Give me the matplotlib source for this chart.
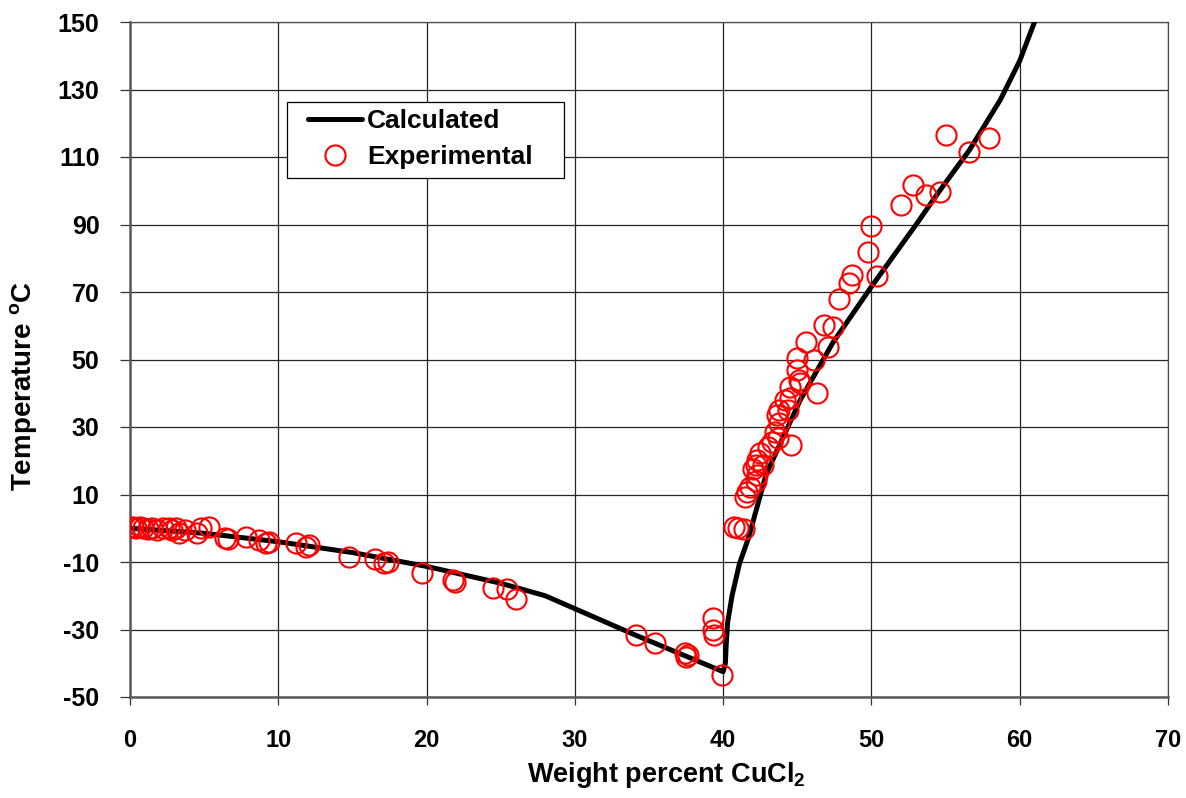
import matplotlib
matplotlib.use("Agg")
import matplotlib.pyplot as plt
from matplotlib.patches import Rectangle

plt.rcParams['font.family'] = ['Liberation Sans', 'DejaVu Sans']
plt.rcParams['axes.unicode_minus'] = False
plt.rcParams['mathtext.fontset'] = 'custom'
plt.rcParams['mathtext.rm'] = 'Liberation Sans'
plt.rcParams['mathtext.bf'] = 'Liberation Sans:bold'

# Calculated curve
calc_x = [0, 5, 10, 15, 20, 25, 28, 34, 40, 40.15, 40.2, 40.3, 40.6, 41.1, 41.7,
          42.9, 45.2, 47.4, 50.0, 53.0, 54.6, 56.6, 58.7, 60.0, 61.0]
calc_y = [0, -1.5, -4.0, -7.2, -11.3, -16.3, -20, -31.5, -42.5, -40, -35, -28, -20,
          -10.5, -3, 16, 38, 55, 71.6, 89.9, 100, 112, 127, 138.5, 150]

# Experimental data
exp_x = [0, 0.2, 0.4, 0.7, 0.9, 1.2, 1.5, 1.8, 2.2, 2.6, 2.8, 3.1, 3.3, 3.7, 4.5, 4.8, 5.3,
         6.4, 6.6, 7.8, 8.7, 9.2, 9.4, 11.2, 11.9, 12.1, 14.8, 16.5, 17.1, 17.4, 19.7,
         21.8, 21.9, 24.5, 25.4, 26.0, 34.1, 35.4, 37.4, 37.5, 37.6, 39.3, 39.3, 39.4, 39.9,
         40.7, 41.0, 41.4, 41.5, 41.6, 41.8, 42.2, 42.3, 42.0, 42.7, 42.2, 42.3, 42.5,
         43.0, 43.3, 43.7, 44.6, 43.5, 43.8, 43.6, 43.8, 44.4, 44.2, 44.5, 46.3, 44.5,
         45.2, 45.1, 45.0, 45.0, 46.1, 47.1, 45.6, 46.8, 47.4, 47.8, 48.5, 48.7, 50.4,
         49.8, 50.0, 52.0, 52.8, 53.7, 54.6, 55.0, 56.6, 57.9]
exp_y = [0.3, 0.5, 0, 0.3, 0, -0.2, 0, -0.5, 0, 0, -0.5, 0, -1.4, -0.5, -1.4, 0, 0.5,
         -3, -3.2, -2.5, -3.5, -4.5, -4, -4.4, -5.5, -5, -8.4, -9.2, -10.4, -10, -13.2,
         -15.3, -15.8, -17.8, -18.1, -21.0, -31.6, -34.1, -37, -38, -37.5, -26.7, -30, -31.6, -43.5,
         0.5, 0, -0.3, 9.4, 10.8, 12.3, 14, 15.8, 17.7, 18.7, 18.7, 20.2, 22.2,
         24.2, 25.7, 26.6, 24.7, 28.6, 31.1, 33.6, 35, 35, 38, 38.5, 40, 41.9,
         43, 43.9, 46.9, 50.3, 49.8, 53.8, 55.3, 60.2, 59.7, 68, 72.8, 75, 74.7,
         82, 89.6, 95.8, 101.7, 98.7, 99.7, 116.5, 111.6, 115.5]

x_ticks = [0, 10, 20, 30, 40, 50, 60, 70]
y_ticks = [-50, -30, -10, 10, 30, 50, 70, 90, 110, 130, 150]

W, H = 1186, 798
fig = plt.figure(figsize=(W / 100, H / 100), dpi=100)
ax = fig.add_axes([130 / W, 1 - 697 / H, 1038 / W, 675 / H])

ax.plot(calc_x, calc_y, color='black', lw=3.6, solid_capstyle='round', zorder=3,
        label='Calculated')
ax.plot(exp_x, exp_y, linestyle='none', marker='o', markersize=14.5,
        markerfacecolor='none', markeredgecolor='red', markeredgewidth=1.5,
        zorder=4, label='Experimental')

ax.set_xlim(0, 70)
ax.set_ylim(-50, 150)
ax.set_xticks(x_ticks)
ax.set_yticks(y_ticks)
ax.grid(True, color='0.15', lw=0.9)
ax.set_axisbelow(True)

for s in ['top', 'right']:
    ax.spines[s].set_color('0.3')
    ax.spines[s].set_linewidth(0.9)
for s in ['left', 'bottom']:
    ax.spines[s].set_color('0.35')
    ax.spines[s].set_linewidth(1.8)

ax.tick_params(axis='y', direction='out', length=7, width=0.9, color='0.2', pad=15,
               labelsize=18)
ax.tick_params(axis='x', direction='out', length=6, width=0.9, color='0.2', pad=17,
               labelsize=17)
for lab in ax.get_yticklabels() + ax.get_xticklabels():
    lab.set_fontweight('bold')

ax.set_xlabel('Weight percent CuCl$_\\mathbf{2}$', fontweight='bold', fontsize=19.5)
ax.xaxis.set_label_coords(0.517, -0.094)
ax.set_ylabel('Temperature $^\\mathregular{o}$C', fontweight='bold', fontsize=20)
ax.yaxis.set_label_coords(-0.087, 0.461)

# Legend box (Excel style, with wider horizontal padding)
box = Rectangle((287 / W, 1 - 178 / H), 277 / W, 76 / H, transform=fig.transFigure,
                facecolor='white', edgecolor='black', lw=0.9, zorder=5, clip_on=False)
ax.add_patch(box)
fs = 19
leg = ax.legend(loc='center left', bbox_to_anchor=(308 / W, 1 - 139 / H),
                bbox_transform=fig.transFigure, frameon=False,
                prop={'weight': 'bold', 'size': fs},
                handlelength=2.05, handletextpad=0.2, borderpad=0, labelspacing=0.47,
                borderaxespad=0)
leg.set_zorder(6)

fig.savefig('out.png', dpi=100)
